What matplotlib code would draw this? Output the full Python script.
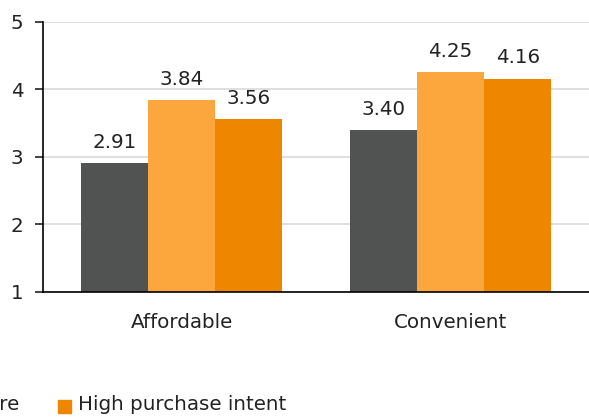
import matplotlib
matplotlib.use("Agg")
import matplotlib.pyplot as plt
import numpy as np
from matplotlib.patches import Rectangle

plt.rcParams['font.family'] = ['DejaVu Sans']

categories = ["Affordable", "Convenient"]
series_names = ["Aware", "Consider", "High purchase intent"]
aware = [2.91, 3.40]
consider = [3.84, 4.25]
high_intent = [3.56, 4.16]
colors = ["#515352", "#FCA63E", "#EE8600"]

FS = 14.3
TXT = "#222222"

fig = plt.figure(figsize=(5.89, 4.2), dpi=100)
ax = fig.add_axes([0.073, 0.305, 0.927, 0.643])

x = np.arange(len(categories))
w = 0.25
for i, (vals, c) in enumerate(zip([aware, consider, high_intent], colors)):
    ax.bar(x + (i - 1) * w, np.array(vals) - 1, width=w, bottom=1, color=c, zorder=2)
    for xi, v in zip(x + (i - 1) * w, vals):
        ax.annotate(f"{v:.2f}", (xi, v), xytext=(0, 8), textcoords="offset points",
                    ha="center", va="bottom", fontsize=FS, color=TXT)

ax.set_xlim(-0.515, 1.515)
ax.set_ylim(1, 5)
ax.set_yticks([1, 2, 3, 4, 5])
ax.set_xticks(x)
ax.set_xticklabels(categories)
ax.tick_params(axis="x", length=0, labelsize=FS, pad=15, colors=TXT)
ax.tick_params(axis="y", length=6, width=1.2, labelsize=FS, pad=8, colors=TXT)
ax.yaxis.grid(True, color="#d9d9d9", linewidth=1.2, zorder=0)
for s in ["top", "right"]:
    ax.spines[s].set_visible(False)
ax.spines["left"].set_linewidth(1.2)
ax.spines["bottom"].set_linewidth(1.2)
ax.set_axisbelow(True)

# legend row, left part cut off by the figure edge
ly = 1 - 405 / 420
fig.text(20 / 589, ly, series_names[0], ha="right", va="center", fontsize=FS, color=TXT)
fig.text(-150 / 589, ly, series_names[1], ha="right", va="center", fontsize=FS, color=TXT)
fig.patches.append(Rectangle((58 / 589, 1 - 413 / 420), 13 / 589, 13 / 420,
                             transform=fig.transFigure, color=colors[2]))
fig.text(78 / 589, ly, series_names[2], ha="left", va="center", fontsize=FS, color=TXT)

fig.savefig("out.png", dpi=100)
